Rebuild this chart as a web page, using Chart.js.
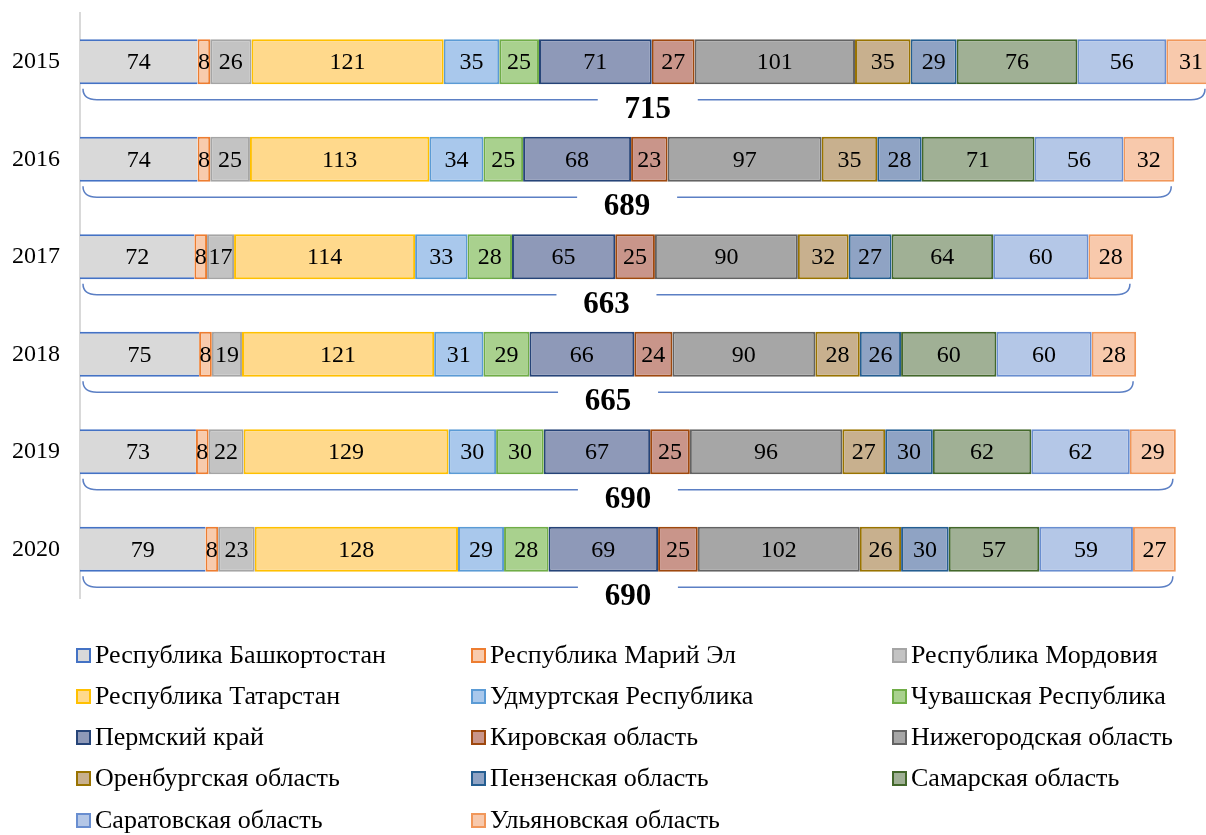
<!DOCTYPE html>
<html>
<head>
<meta charset="utf-8">
<script src="https://cdn.jsdelivr.net/npm/chart.js@4"></script>
<style>
  body { margin: 0; background: #fff; }
  #wrap { width: 1206px; height: 835px; }
</style>
</head>
<body>
<div id="wrap"><canvas id="regionChart"></canvas></div>
<script>
var years = ['2015', '2016', '2017', '2018', '2019', '2020'];
var regions = [
    'Республика Башкортостан', 'Республика Марий Эл', 'Республика Мордовия',
    'Республика Татарстан', 'Удмуртская Республика', 'Чувашская Республика',
    'Пермский край', 'Кировская область', 'Нижегородская область',
    'Оренбургская область', 'Пензенская область', 'Самарская область',
    'Саратовская область', 'Ульяновская область'
];
// one array per region, values for 2015..2020
var bashkortostan = [74, 74, 72, 75, 73, 79];
var mariyEl = [8, 8, 8, 8, 8, 8];
var mordoviya = [26, 25, 17, 19, 22, 23];
var tatarstan = [121, 113, 114, 121, 129, 128];
var udmurtiya = [35, 34, 33, 31, 30, 29];
var chuvashiya = [25, 25, 28, 29, 30, 28];
var perm = [71, 68, 65, 66, 67, 69];
var kirov = [27, 23, 25, 24, 25, 25];
var nizhniy = [101, 97, 90, 90, 96, 102];
var orenburg = [35, 35, 32, 28, 27, 26];
var penza = [29, 28, 27, 26, 30, 30];
var samara = [76, 71, 64, 60, 62, 57];
var saratov = [56, 56, 60, 60, 62, 59];
var ulyanovsk = [31, 32, 28, 28, 29, 27];
var totals = [715, 689, 663, 665, 690, 690];

var seriesValues = [bashkortostan, mariyEl, mordoviya, tatarstan, udmurtiya, chuvashiya,
    perm, kirov, nizhniy, orenburg, penza, samara, saratov, ulyanovsk];

var fills = ['#D9D9D9', '#F8CBAD', '#C3C3C3', '#FFD98C', '#A9C8EC', '#A9D18E',
    '#8E99B8', '#C9958A', '#A6A6A6', '#C8B08E', '#8FA3C4', '#A0B095', '#B4C7E7', '#F8C9AC'];
var borders = ['#4472C4', '#ED7D31', '#A5A5A5', '#FFC000', '#5B9BD5', '#70AD47',
    '#264478', '#9E480E', '#636363', '#997300', '#255E91', '#43682B', '#698ED0', '#F1975A'];

var serif = "'Liberation Serif', 'DejaVu Serif', serif";

var datasets = regions.map(function(name, i) {
    return {
        label: name,
        data: seriesValues[i],
        backgroundColor: fills[i],
        borderColor: borders[i],
        // Bashkortostan only has lines on top and bottom
        borderWidth: i === 0 ? {top: 2, bottom: 2, left: 0, right: 0} : 2,
        borderSkipped: false,
        barPercentage: 0.92,
        categoryPercentage: 0.5
    };
});

// values inside segments
var valueLabels = {
    id: 'valueLabels',
    afterDatasetsDraw: function(chart) {
        var ctx = chart.ctx;
        ctx.save();
        ctx.font = '24px ' + serif;
        ctx.fillStyle = '#000';
        ctx.textAlign = 'center';
        ctx.textBaseline = 'middle';
        chart.data.datasets.forEach(function(ds, i) {
            chart.getDatasetMeta(i).data.forEach(function(bar, j) {
                var cx = (bar.x + bar.base) / 2;
                if (cx > chart.chartArea.right) return;
                ctx.fillText(ds.data[j], cx, bar.y + 1);
            });
        });
        ctx.restore();
    }
};

// brace under each bar with the total
var totalBraces = {
    id: 'totalBraces',
    afterDatasetsDraw: function(chart) {
        var ctx = chart.ctx;
        var xs = chart.scales.x, ys = chart.scales.y;
        ctx.save();
        years.forEach(function(y, i) {
            var cy = ys.getPixelForValue(i);
            var xl = xs.getPixelForValue(0) + 3;
            var xr = Math.min(xs.getPixelForValue(totals[i]) - 3, chart.chartArea.right - 1);
            var yb = cy + 38;
            var mid = (xs.getPixelForValue(0) + xs.getPixelForValue(totals[i])) / 2;
            ctx.strokeStyle = '#5B7FC4';
            ctx.lineWidth = 1.5;
            ctx.beginPath();
            ctx.moveTo(xl, yb - 11);
            ctx.quadraticCurveTo(xl, yb, xl + 14, yb);
            ctx.lineTo(mid - 50, yb);
            ctx.moveTo(mid + 50, yb);
            ctx.lineTo(xr - 14, yb);
            ctx.quadraticCurveTo(xr, yb, xr, yb - 11);
            ctx.stroke();
            ctx.font = 'bold 31px ' + serif;
            ctx.fillStyle = '#000';
            ctx.textAlign = 'center';
            ctx.textBaseline = 'middle';
            ctx.fillText(totals[i], mid, yb + 10);
        });
        ctx.restore();
    }
};

// legend in three fixed columns
var gridLegend = {
    id: 'gridLegend',
    afterDraw: function(chart) {
        var ctx = chart.ctx;
        var colX = [77, 472, 893];
        var rowY = [655, 696, 737, 778, 820];
        ctx.save();
        ctx.font = '26px ' + serif;
        ctx.textBaseline = 'middle';
        ctx.textAlign = 'left';
        regions.forEach(function(name, i) {
            var x = colX[i % 3], y = rowY[Math.floor(i / 3)];
            ctx.fillStyle = fills[i];
            ctx.fillRect(x, y - 6, 13, 13);
            ctx.strokeStyle = borders[i];
            ctx.lineWidth = 2;
            ctx.strokeRect(x, y - 6, 13, 13);
            ctx.fillStyle = '#000';
            ctx.fillText(name, x + 18, y + 1);
        });
        ctx.restore();
    }
};

var chartCtx = document.getElementById('regionChart').getContext('2d');
var regionChart = new Chart(chartCtx, {
    type: 'bar',
    data: { labels: years, datasets: datasets },
    plugins: [valueLabels, totalBraces, gridLegend],
    options: {
        indexAxis: 'y',
        responsive: true,
        maintainAspectRatio: false,
        animation: false,
        layout: { padding: { top: 13, bottom: 237, left: 0, right: 0 } },
        plugins: {
            legend: { display: false },
            tooltip: { enabled: false }
        },
        scales: {
            x: {
                stacked: true,
                min: 0,
                max: 709,
                display: false
            },
            y: {
                stacked: true,
                grid: { display: false, drawTicks: false },
                border: { color: '#D9D9D9', width: 2 },
                ticks: {
                    color: '#000',
                    padding: 20,
                    font: { family: serif, size: 24 }
                },
                afterFit: function(scale) {
                    scale.width = 80;
                    // tick padding would otherwise push the plot down
                    scale.paddingTop = 0;
                    scale.paddingBottom = 0;
                }
            }
        }
    }
});
</script>
</body>
</html>
